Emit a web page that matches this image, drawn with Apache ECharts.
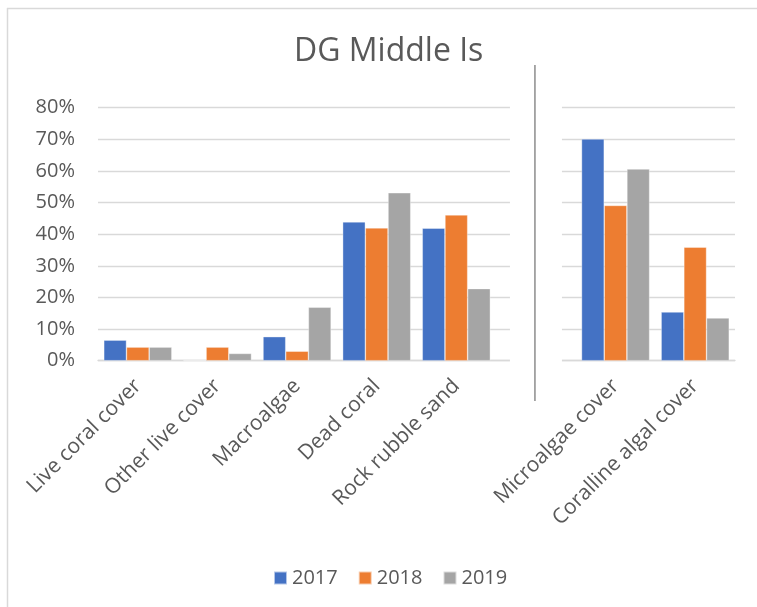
<!DOCTYPE html>
<html>
<head>
<meta charset="utf-8">
<script src="https://cdn.jsdelivr.net/npm/echarts@6/dist/echarts.min.js"></script>
<style>
  html, body { margin: 0; padding: 0; background: #fff; }
  #chart { width: 757px; height: 607px; }
</style>
</head>
<body>
<div id="chart"></div>
<script>
// Benthic cover categories; the empty slot separates the two groups
const categories = ['Live coral cover', 'Other live cover', 'Macroalgae', 'Dead coral',
                    'Rock rubble sand', '', 'Microalgae cover', 'Coralline algal cover'];
const years = ['2017', '2018', '2019'];
// Percent cover per year
const cover2017 = [6.5, 0, 7.6, 43.9, 41.9, null, 70.1, 15.4];
const cover2018 = [4.3, 4.3, 3.0, 42.0, 46.1, null, 49.1, 35.9];
const cover2019 = [4.3, 2.3, 16.9, 53.1, 22.8, null, 60.6, 13.5];
const yTicks = { min: 0, max: 80, step: 10 };

const colors = ['#4472C4', '#ED7D31', '#A5A5A5'];
const textColor = '#595959';
const font = '"Open Sans", sans-serif';

const chart = echarts.init(document.getElementById('chart'), null, { renderer: 'canvas' });

const seriesData = [cover2017, cover2018, cover2019];

const option = {
  animation: false,
  backgroundColor: '#fff',
  color: colors,
  title: {
    text: 'DG Middle Is',
    left: 289,
    top: 31,
    textStyle: { color: textColor, fontFamily: font, fontWeight: 'normal', fontSize: 32 }
  },
  legend: {
    data: years,
    left: 268,
    top: 563,
    icon: 'rect',
    itemWidth: 13,
    itemHeight: 13,
    itemGap: 20,
    textStyle: { color: textColor, fontFamily: font, fontSize: 20 }
  },
  grid: { left: 98, right: 22, top: 107.7, bottom: 246.3, containLabel: false },
  xAxis: {
    type: 'category',
    data: categories,
    axisLine: { show: true, lineStyle: { color: '#d9d9d9', width: 1.3 } },
    axisTick: { show: false },
    axisLabel: {
      interval: 0,
      rotate: 45,
      margin: 22,
      color: textColor,
      fontFamily: font,
      fontSize: 21
    }
  },
  yAxis: {
    type: 'value',
    min: yTicks.min,
    max: yTicks.max,
    interval: yTicks.step,
    axisLine: { show: false },
    axisTick: { show: false },
    splitLine: { lineStyle: { color: '#d9d9d9', width: 1.3 } },
    axisLabel: {
      formatter: '{value}%',
      margin: 23,
      color: textColor,
      fontFamily: font,
      fontSize: 20
    }
  },
  series: years.map((y, i) => ({
    name: y,
    type: 'bar',
    data: seriesData[i],
    barGap: '0%',
    barCategoryGap: '14.5%',
    itemStyle: { color: colors[i], borderColor: 'rgba(255,255,255,0.6)', borderWidth: 0.6 }
  }))
};

chart.setOption(option);

// Separator between the two category groups: white panel hiding the gridlines
// in the empty slot, and a vertical rule through its middle.
const gapIndex = categories.indexOf('');
const cx = chart.convertToPixel({ xAxisIndex: 0 }, gapIndex);
const yTop = chart.convertToPixel({ yAxisIndex: 0 }, yTicks.max);
const yBot = chart.convertToPixel({ yAxisIndex: 0 }, yTicks.min);

chart.setOption({
  graphic: [
    {
      type: 'rect',
      shape: { x: cx - 26, y: yTop - 4, width: 52, height: yBot - yTop + 8 },
      style: { fill: '#fff' },
      z: 100
    },
    {
      type: 'line',
      shape: { x1: cx - 1, y1: 65, x2: cx - 1, y2: 401 },
      style: { stroke: '#8c8c8c', lineWidth: 1.5 },
      z: 101
    },
    // Chart frame (top and left edges)
    {
      type: 'line',
      shape: { x1: 7, y1: 8.5, x2: 757, y2: 8.5 },
      style: { stroke: '#d9d9d9', lineWidth: 1.5 },
      z: 101
    },
    {
      type: 'line',
      shape: { x1: 7.5, y1: 8, x2: 7.5, y2: 607 },
      style: { stroke: '#d9d9d9', lineWidth: 1.5 },
      z: 101
    }
  ]
});
</script>
</body>
</html>
